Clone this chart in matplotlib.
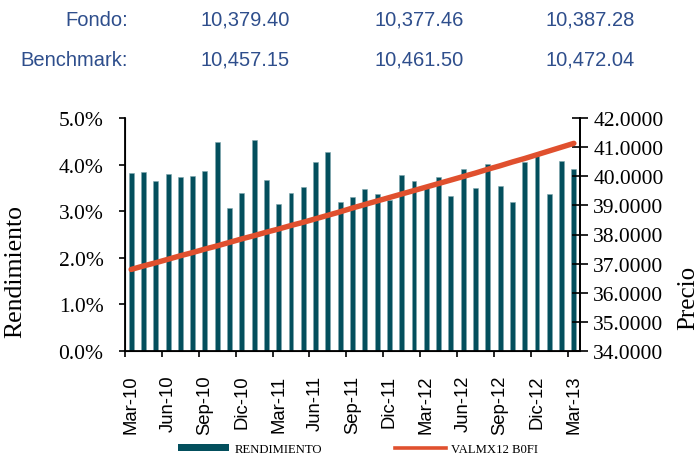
import matplotlib
matplotlib.use("Agg")
import matplotlib.pyplot as plt
from matplotlib.patches import Patch
from matplotlib.lines import Line2D
import numpy as np

# ---- data ----
months = ["Mar-10", "Abr-10", "May-10", "Jun-10", "Jul-10", "Ago-10", "Sep-10", "Oct-10", "Nov-10",
          "Dic-10", "Ene-11", "Feb-11", "Mar-11", "Abr-11", "May-11", "Jun-11", "Jul-11", "Ago-11",
          "Sep-11", "Oct-11", "Nov-11", "Dic-11", "Ene-12", "Feb-12", "Mar-12", "Abr-12", "May-12",
          "Jun-12", "Jul-12", "Ago-12", "Sep-12", "Oct-12", "Nov-12", "Dic-12", "Ene-13", "Feb-13",
          "Mar-13"]
rendimiento = [3.82, 3.84, 3.65, 3.80, 3.73, 3.76, 3.86, 4.48, 3.07, 3.38, 4.53, 3.68, 3.15,
               3.40, 3.51, 4.06, 4.26, 3.19, 3.30, 3.48, 3.36, 3.24, 3.78, 3.64, 3.51, 3.73,
               3.32, 3.91, 3.50, 4.01, 3.55, 3.20, 4.06, 4.18, 3.36, 4.08, 3.91]
precio = [36.80, 36.92, 37.03, 37.15, 37.27, 37.38, 37.50, 37.61, 37.73, 37.85, 37.96, 38.08,
          38.19, 38.31, 38.42, 38.54, 38.66, 38.78, 38.91, 39.03, 39.15, 39.27, 39.39, 39.51,
          39.63, 39.75, 39.87, 39.99, 40.11, 40.24, 40.36, 40.49, 40.61, 40.74, 40.87, 41.00,
          41.13]
header_rows = ["Fondo:", "Benchmark:"]
fondo_vals = ["10,379.40", "10,377.46", "10,387.28"]
bench_vals = ["10,457.15", "10,461.50", "10,472.04"]
left_ticks = [0, 1, 2, 3, 4, 5]
right_ticks = [34, 35, 36, 37, 38, 39, 40, 41, 42]
series_names = ["RENDIMIENTO", "VALMX12 B0FI"]

BAR_C = "#034f5d"
LINE_C = "#e0502e"
BLUE = "#2e4e8c"
SERIF = "Liberation Serif"
SANS = "Liberation Sans"

fig = plt.figure(figsize=(7, 4.6), dpi=100)
ax = fig.add_axes([125/700, 1-352/460, 455/700, 233/460])
x = np.arange(len(months))
ax.bar(x, rendimiento, width=0.4, color=BAR_C, edgecolor="#7fa6ad", linewidth=0.4, zorder=2)
ax.set_xlim(-0.5, len(months) - 0.5)
ax.set_ylim(0, 5)
ax.set_yticks(left_ticks)
ax.set_yticklabels([f"{v:.1f}%" for v in left_ticks], fontfamily=SERIF, fontsize=15.5)
ax.tick_params(axis="y", direction="out", length=4.5, width=1.2, pad=11)

# major ticks at category boundaries, labels on minor ticks
ax.set_xticks(np.arange(-0.5, len(months), 3))
ax.set_xticklabels([])
ax.tick_params(axis="x", which="major", direction="out", length=4, width=1.2)
ax.set_xticks(x[::3], minor=True)
ax.set_xticklabels(months[::3], minor=True, rotation=90, fontfamily=SANS, fontsize=13.3)
ax.tick_params(axis="x", which="minor", length=0, pad=17)

for s in ["top"]:
    ax.spines[s].set_visible(False)
for s in ["left", "bottom", "right"]:
    ax.spines[s].set_linewidth(1.3)

ax2 = ax.twinx()
ax2.plot(x, precio, color=LINE_C, linewidth=3.9, solid_capstyle="round", zorder=3)
ax2.set_ylim(34, 42)
ax2.set_yticks(right_ticks)
ax2.set_yticklabels([f"{v:.4f}" for v in right_ticks], fontfamily=SERIF, fontsize=15.5)
ax2.tick_params(axis="y", direction="inout", length=11, width=1.2, pad=4)
ax2.spines["top"].set_visible(False)
ax2.spines["right"].set_linewidth(1.3)
ax2.set_xlim(-0.5, len(months) - 0.5)

fig.text(15/700, 1-272/460, "Rendimiento", rotation=90, ha="center", va="center",
         fontfamily=SERIF, fontsize=18.5)
fig.text(688/700, 1-298/460, "Precio", rotation=90, ha="center", va="center",
         fontfamily=SERIF, fontsize=18)

# header
for row, vals, yy in [(header_rows[0], fondo_vals, 20), (header_rows[1], bench_vals, 60)]:
    fig.text(128/700, 1-yy/460, row, ha="right", va="center", color=BLUE,
             fontfamily=SANS, fontsize=14.5)
    for v, cx in zip(vals, [245, 419, 590]):
        fig.text(cx/700, 1-yy/460, v, ha="center", va="center", color=BLUE,
                 fontfamily=SANS, fontsize=14.5)

handles = [Patch(facecolor=BAR_C, edgecolor="none"),
           Line2D([0], [0], color=LINE_C, linewidth=2.6)]
leg = fig.legend(handles, series_names, loc="center", bbox_to_anchor=(358/700, 1-450/460),
                 ncol=2, frameon=False, prop={"family": SERIF, "size": 9.2},
                 handlelength=4.0, handleheight=0.5, handletextpad=0.4, columnspacing=5.7)

fig.savefig("out.png", dpi=100)
